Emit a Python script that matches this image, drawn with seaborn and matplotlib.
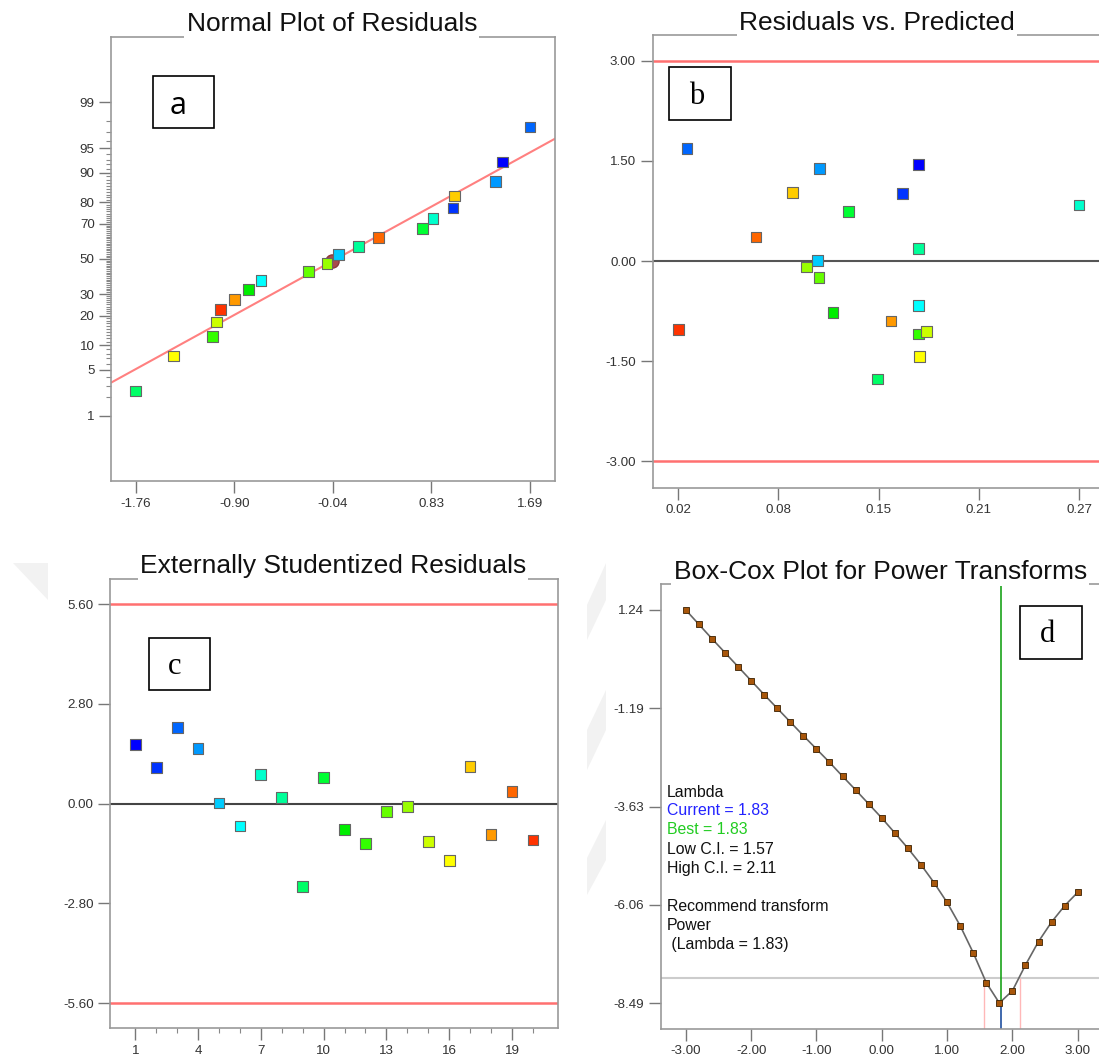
import numpy as np
import pandas as pd
import matplotlib
matplotlib.use("Agg")
import matplotlib.pyplot as plt
from matplotlib.patches import Rectangle, Polygon
import seaborn as sns
from statistics import NormalDist

# ---------------- data ----------------
runs = list(range(1, 21))
predicted = [0.1699, 0.1598, 0.0254, 0.1081, 0.1070, 0.1699, 0.2700, 0.1699, 0.1441, 0.1261,
             0.1165, 0.1699, 0.1077, 0.1000, 0.1748, 0.1705, 0.0910, 0.1527, 0.0685, 0.0200]
resid_internal = [1.451, 1.017, 1.689, 1.389, 0.015, -0.664, 0.841, 0.192, -1.764, 0.749,
                  -0.771, -1.090, -0.247, -0.086, -1.056, -1.432, 1.030, -0.896, 0.361, -1.019]
resid_external = [1.654, 1.024, 2.133, 1.541, 0.019, -0.630, 0.818, 0.179, -2.321, 0.724,
                  -0.733, -1.109, -0.226, -0.075, -1.071, -1.598, 1.043, -0.874, 0.338, -1.024]
normal_pct = [2.5, 7.5, 12.5, 17.5, 22.5, 27.5, 32.5, 37.5, 42.5, 47.5,
              52.5, 57.5, 62.5, 67.5, 72.5, 77.5, 82.5, 87.5, 92.5, 97.5]
run_colors = ['#0000ff', '#0033ff', '#0066ff', '#0099ff', '#00ccff', '#00ffff', '#00ffcc',
              '#00ff99', '#00ff66', '#00ff33', '#00ee00', '#33ff00', '#66ff00', '#99ff00',
              '#ccff00', '#ffff00', '#ffcc00', '#ff9900', '#ff6600', '#ff3300']

fit_resid = [-1.973, 1.912]
fit_pct = [3.33, 96.32]
mean_marker_resid = [-0.04]
mean_marker_pct = [49.0]

a_xticks = [-1.76, -0.8975, -0.035, 0.8275, 1.69]
a_xticklabels = ["-1.76", "-0.90", "-0.04", "0.83", "1.69"]
a_yticks = [1, 5, 10, 20, 30, 50, 70, 80, 90, 95, 99]

b_xticks = [0.02, 0.0825, 0.145, 0.2075, 0.27]
b_xticklabels = ["0.02", "0.08", "0.15", "0.21", "0.27"]
b_yticks = [3.0, 1.5, 0.0, -1.5, -3.0]
b_limits = [3.0, -3.0]

c_xticks = [1, 4, 7, 10, 13, 16, 19]
c_yticks = [5.6, 2.8, 0.0, -2.8, -5.6]
c_limits = [5.6, -5.6]

lambdas = [-3.0, -2.8, -2.6, -2.4, -2.2, -2.0, -1.8, -1.6, -1.4, -1.2, -1.0,
           -0.8, -0.6, -0.4, -0.2, 0.0, 0.2, 0.4, 0.6, 0.8, 1.0,
           1.2, 1.4, 1.6, 1.8, 2.0, 2.2, 2.4, 2.6, 2.8, 3.0]
ln_resid_ss = [1.24, 0.885, 0.530, 0.184, -0.163, -0.509, -0.856, -1.194, -1.532, -1.871, -2.201,
               -2.531, -2.877, -3.215, -3.562, -3.909, -4.280, -4.659, -5.064, -5.510, -6.000,
               -6.575, -7.245, -7.986, -8.490, -8.188, -7.549, -6.968, -6.485, -6.082, -5.750]
lambda_current = 1.83
lambda_best = 1.83
ci_low = 1.57
ci_high = 2.11
ci_threshold = -7.865
d_xticks = [-3.0, -2.0, -1.0, 0.0, 1.0, 2.0, 3.0]
d_yticks = [1.24, -1.19, -3.63, -6.06, -8.49]

# ---------------- style ----------------
sns.set_style("white")
plt.rcParams['font.family'] = ['Liberation Sans', 'DejaVu Sans']
plt.rcParams['axes.edgecolor'] = '#999999'
plt.rcParams['axes.linewidth'] = 1.2

W, H = 1099, 1061
fig = plt.figure(figsize=(W / 100, H / 100), dpi=100)
fig.patch.set_facecolor('white')


def rect(x0, y0, x1, y1):
    return [x0 / W, 1 - y1 / H, (x1 - x0) / W, (y1 - y0) / H]


def style_axes(ax):
    ax.set_facecolor('white')
    for s in ax.spines.values():
        s.set_visible(True)
        s.set_color('#999999')
        s.set_linewidth(1.2)
    ax.tick_params(which='major', direction='out', length=8.6, width=1.0, color='#777777',
                   labelcolor='#333333', labelsize=9.6, pad=3.5,
                   bottom=True, left=True, top=False, right=False)
    ax.tick_params(which='minor', direction='out', length=3.6, width=0.8, color='#888888',
                   bottom=True, left=True, top=False, right=False)
    ax.set_xlabel('')
    ax.set_ylabel('')
    ax.grid(False)


def fmt2(v):
    return f"{v:.2f}"


df = pd.DataFrame({'run': [f"R{r}" for r in runs], 'run_no': runs, 'predicted': predicted,
                   'r_int': resid_internal, 'r_ext': resid_external})
palette = dict(zip(df['run'], run_colors))
sq_kw = dict(hue='run', palette=palette, marker='s', s=60, edgecolor='#666666',
             linewidth=0.8, legend=False, zorder=4)

# ---------------- panel a : normal plot ----------------
_nd = NormalDist()
_fwd_v = np.vectorize(lambda v: _nd.inv_cdf(v / 100.0), otypes=[float])
_inv_v = np.vectorize(lambda v: _nd.cdf(v) * 100.0, otypes=[float])


def probit(p):
    p = np.clip(np.asarray(p, dtype=float), 1e-7, 100 - 1e-7)
    return _fwd_v(p)


def probit_inv(z):
    return _inv_v(np.asarray(z, dtype=float))


axa = fig.add_axes(rect(111.4, 37.2, 555.4, 480.7))
axa.set_yscale('function', functions=(probit, probit_inv))
dfa = df.sort_values('r_int', kind='stable').reset_index(drop=True)
dfa['pct'] = normal_pct
sns.lineplot(x=fit_resid, y=fit_pct, color='#ff8080', linewidth=1.5, ax=axa, zorder=2)
axa.scatter(mean_marker_resid, mean_marker_pct, s=90, marker='o', color='#a84c4c',
            edgecolor='#8a3a3a', zorder=3)
sns.scatterplot(data=dfa, x='r_int', y='pct', ax=axa, **sq_kw)
axa.set_xlim(-1.973, 1.912)
axa.set_ylim(float(probit_inv(-3.293)), float(probit_inv(3.293)))
style_axes(axa)
axa.set_xticks(a_xticks)
axa.set_xticklabels(a_xticklabels)
axa.set_yticks(a_yticks)
axa.set_yticklabels([str(t) for t in a_yticks])
axa.set_yticks([v for v in range(1, 100) if v not in a_yticks], minor=True)
axa.tick_params(axis='x', which='minor', bottom=False)

# ---------------- panel b : residuals vs predicted ----------------
axb = fig.add_axes(rect(652.8, 34.8, 1104.6, 487.5))
for lim in b_limits:
    axb.axhline(lim, color='#ff7070', linewidth=1.8, zorder=2)
axb.axhline(0.0, color='#555555', linewidth=1.5, zorder=2)
sns.scatterplot(data=df, x='predicted', y='r_int', ax=axb, **sq_kw)
axb.set_xlim(0.0041, 0.2859)
axb.set_ylim(-3.39, 3.39)
style_axes(axb)
axb.set_xticks(b_xticks)
axb.set_xticklabels(b_xticklabels)
axb.set_yticks(b_yticks)
axb.set_yticklabels([fmt2(v) for v in b_yticks])

# ---------------- panel c : externally studentized ----------------
axc = fig.add_axes(rect(110.4, 579.0, 557.8, 1028.3))
for lim in c_limits:
    axc.axhline(lim, color='#ff7070', linewidth=1.8, zorder=2)
axc.axhline(0.0, color='#444444', linewidth=1.5, zorder=2)
sns.scatterplot(data=df, x='run_no', y='r_ext', ax=axc, **sq_kw)
axc.set_xlim(-0.19, 21.19)
axc.set_ylim(-6.31, 6.31)
style_axes(axc)
axc.set_xticks(c_xticks)
axc.set_xticklabels([str(v) for v in c_xticks])
axc.set_xticks([v for v in runs if v not in c_xticks], minor=True)
axc.tick_params(axis='x', which='minor', length=3.6)
axc.set_yticks(c_yticks)
axc.set_yticklabels([fmt2(v) for v in c_yticks])

# ---------------- panel d : Box-Cox ----------------
axd = fig.add_axes(rect(661.1, 584.3, 1102.4, 1028.5))
d_ylim = (-9.121, 1.876)
axd.axhline(ci_threshold, color='#cccccc', linewidth=1.5, zorder=1)
axd.vlines([ci_low, ci_high], d_ylim[0], ci_threshold, color='#ffb8b8', linewidth=1.0, zorder=1)
axd.vlines(lambda_best, min(ln_resid_ss), d_ylim[1], color='#1aa31a', linewidth=1.2, zorder=2)
axd.vlines(lambda_current, d_ylim[0], min(ln_resid_ss), color='#1f4f9f', linewidth=1.2, zorder=2)
sns.lineplot(x=lambdas, y=ln_resid_ss, color='#666666', linewidth=1.2, marker='s',
             markersize=3.8, markerfacecolor='#a8560a', markeredgecolor='#3a2000',
             markeredgewidth=0.6, ax=axd, zorder=3)
axd.set_xlim(-3.378, 3.378)
axd.set_ylim(*d_ylim)
style_axes(axd)
axd.set_xticks(d_xticks)
axd.set_xticklabels([fmt2(v) for v in d_xticks])
axd.set_yticks(d_yticks)
axd.set_yticklabels([fmt2(v) for v in d_yticks])

# lambda text block
lam_lines = [("Lambda", '#111111', 792.3),
             (f"Current = {lambda_current:.2f}", '#2222ff', 810.6),
             (f"Best = {lambda_best:.2f}", '#22cc22', 829.6),
             (f"Low C.I. = {ci_low:.2f}", '#111111', 849.0),
             (f"High C.I. = {ci_high:.2f}", '#111111', 868.0),
             ("Recommend transform", '#111111', 906.3),
             ("Power", '#111111', 925.7),
             (f" (Lambda = {lambda_best:.2f})", '#111111', 944.3)]
for txt, col, ypx in lam_lines:
    fig.text(666.6 / W, 1 - ypx / H, txt, ha='left', va='center', fontsize=11.4, color=col)

# ---------------- titles ----------------
titles = [("Normal Plot of Residuals", 331.8, 31.1),
          ("Residuals vs. Predicted", 877.0, 29.7),
          ("Externally Studentized Residuals", 333.0, 573.3),
          ("Box-Cox Plot for Power Transforms", 880.2, 579.3)]
for txt, xpx, ypx in titles:
    fig.text(xpx / W, 1 - ypx / H, txt, ha='center', va='baseline', fontsize=19, color='#111111',
             bbox=dict(boxstyle='square,pad=0.08', fc='white', ec='none'), zorder=10)

# ---------------- panel letter boxes ----------------
boxes = [("a", (152.5, 75.7, 214.3, 128.1), (178.6, 105.5), ['Open Sans', 'DejaVu Sans'], 22),
         ("b", (669.3, 67.3, 731.2, 119.7), (696.8, 96.3), ['Liberation Serif', 'DejaVu Serif'], 22),
         ("c", (148.6, 637.7, 210.4, 689.7), (175.0, 666.7), ['Liberation Serif', 'DejaVu Serif'], 22),
         ("d", (1020.0, 606.3, 1081.8, 659.0), (1047.1, 635.0), ['Liberation Serif', 'DejaVu Serif'], 22)]
for letter, (x0, y0, x1, y1), (tx, ty), fam, fs in boxes:
    fig.add_artist(Rectangle((x0 / W, 1 - y1 / H), (x1 - x0) / W, (y1 - y0) / H,
                             transform=fig.transFigure, facecolor='white', edgecolor='black',
                             linewidth=1.2, zorder=20))
    fig.text(tx / W, 1 - ty / H, letter, ha='center', va='center', fontsize=fs,
             family=fam, color='black', zorder=21)

# faint watermark shapes
wm = [[(13, 563), (48, 563), (48, 600)],
      [(606, 563), (606, 600), (587, 640), (587, 605)],
      [(606, 690), (606, 730), (587, 770), (587, 730)],
      [(606, 820), (606, 860), (587, 895), (587, 858)]]
for poly in wm:
    fig.add_artist(Polygon([(x / W, 1 - y / H) for x, y in poly], closed=True,
                           transform=fig.transFigure, facecolor='#f2f2f2', edgecolor='none',
                           zorder=-1))

fig.savefig("out.png", dpi=100, facecolor='white')
